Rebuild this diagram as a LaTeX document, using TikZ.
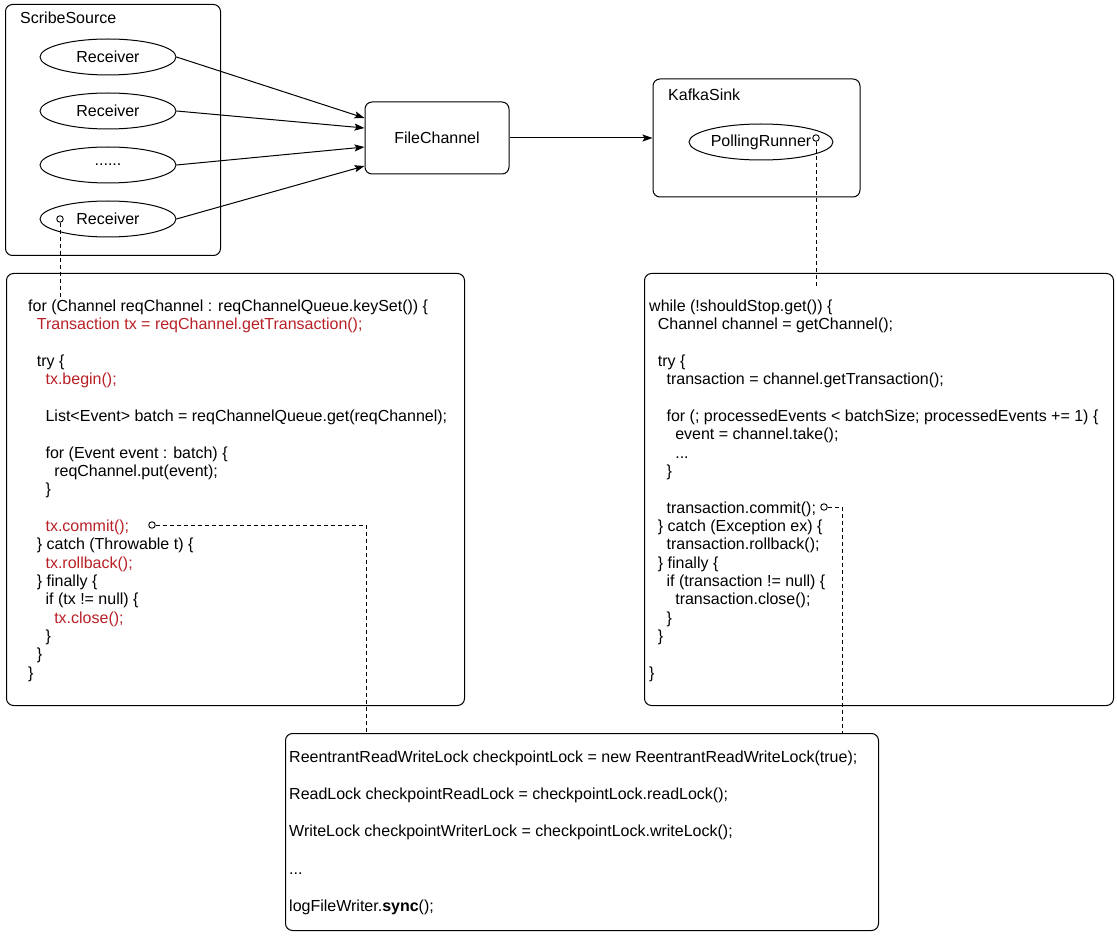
\documentclass[tikz,border=0pt]{standalone}
\usepackage{fontspec}
\setmainfont{Liberation Sans}
\usetikzlibrary{shapes.geometric,arrows.meta}
\definecolor{codered}{RGB}{184,32,38}
\newlength\indentstep
\setlength\indentstep{8.7pt}
\newcommand\codeind[1]{\hspace*{#1\indentstep}}
\newcommand\txred[1]{\textcolor{codered}{#1}}
\tikzset{
  frame/.style={draw, rounded corners=7pt, line width=1pt},
  recv/.style={draw, ellipse, line width=1pt, minimum width=136pt, minimum height=36pt, inner sep=0pt},
  code/.style={anchor=north west, align=left, inner sep=0pt},
  lbl/.style={anchor=base west, inner sep=0pt},
  hook/.style={draw, circle, fill=white, inner sep=0pt, minimum size=6.5pt, line width=0.9pt},
  link/.style={dash pattern=on 4pt off 3pt, line width=0.9pt},
  feed/.style={-{Stealth[length=10pt,width=7pt,inset=2pt]}, line width=1pt}
}

\begin{document}
\begin{tikzpicture}[x=1pt,y=-1pt,font=\fontsize{16}{18.35}\selectfont]
\useasboundingbox (0,0) rectangle (1117,936);

% source side
\node[frame, anchor=north west, minimum width=215pt, minimum height=251pt] (scribe) at (5,4) {};
\node[lbl] (scribelbl) at (20,23.5) {ScribeSource};
\node[recv] (r1) at (108,57) {Receiver};
\node[recv] (r2) at (108,111) {Receiver};
\node[recv] (r3) at (108,165) {......};
\node[recv] (r4) at (108,219) {Receiver};

% channel and sink
\node[frame, minimum width=144pt, minimum height=72pt] (filech) at (437,138) {FileChannel};
\node[frame, minimum width=207pt, minimum height=118pt] (kafka) at (756.5,138) {};
\node[lbl] (kafkalbl) at (668,101) {KafkaSink};
\node[recv, minimum width=144pt] (poller) at (761,142) {PollingRunner};

\draw[feed] (r1.east) -- ([yshift=20pt]filech.west);
\draw[feed] (r2.east) -- ([yshift=10pt]filech.west);
\draw[feed] (r3.east) -- ([yshift=-9pt]filech.west);
\draw[feed] (r4.east) -- ([yshift=-28pt]filech.west);
\draw[feed] (filech) -- (kafka);

% code boxes
\node[frame, anchor=north west, minimum width=458pt, minimum height=432pt] (srcbox) at (6,273) {};
\node[frame, anchor=north west, minimum width=469pt, minimum height=432pt] (sinkbox) at (644,273) {};
\node[frame, anchor=north west, minimum width=593pt, minimum height=197pt] (lockbox) at (285,733) {};

\node[code] (srccode) at (28,299.5) {%
for (Channel reqChannel : reqChannelQueue.keySet()) \{\\
\codeind{1}\txred{Transaction tx = reqChannel.getTransaction();}\\[18.35pt]
\codeind{1}try \{\\
\codeind{2}\txred{tx.begin();}\\[18.35pt]
\codeind{2}List<Event> batch = reqChannelQueue.get(reqChannel);\\[18.35pt]
\codeind{2}for (Event event : batch) \{\\
\codeind{3}reqChannel.put(event);\\
\codeind{2}\}\\[18.35pt]
\codeind{2}\txred{tx.commit();}\\
\codeind{1}\} catch (Throwable t) \{\\
\codeind{2}\txred{tx.rollback();}\\
\codeind{1}\} finally \{\\
\codeind{2}if (tx != null) \{\\
\codeind{3}\txred{tx.close();}\\
\codeind{2}\}\\
\codeind{1}\}\\
\}};

\node[code] (sinkcode) at (649,299.5) {%
while (!shouldStop.get()) \{\\
\codeind{1}Channel channel = getChannel();\\[18.35pt]
\codeind{1}try \{\\
\codeind{2}transaction = channel.getTransaction();\\[18.35pt]
\codeind{2}for (; processedEvents < batchSize; processedEvents += 1) \{\\
\codeind{3}event = channel.take();\\
\codeind{3}...\\
\codeind{2}\}\\[18.35pt]
\codeind{2}transaction.commit();\\
\codeind{1}\} catch (Exception ex) \{\\
\codeind{2}transaction.rollback();\\
\codeind{1}\} finally \{\\
\codeind{2}if (transaction != null) \{\\
\codeind{3}transaction.close();\\
\codeind{2}\}\\
\codeind{1}\}\\[18.35pt]
\}};

\node[code] (lockcode) at (289,750.5) {%
ReentrantReadWriteLock checkpointLock = new ReentrantReadWriteLock(true);\\[18.9pt]
ReadLock checkpointReadLock = checkpointLock.readLock();\\[18.9pt]
WriteLock checkpointWriterLock = checkpointLock.writeLock();\\[18.9pt]
...\\[18.9pt]
logFileWriter.\textbf{sync}();};

% dashed hooks
\node[hook] (r4hook) at (60,219) {};
\coordinate (r4end) at (60,297);
\draw[link] (r4hook) -- (r4end);

\node[hook] (pollhook) at (816,138) {};
\coordinate (pollend) at (816,288);
\draw[link] (pollhook) -- (pollend);

\node[hook] (srccommit) at (152,525) {};
\coordinate (srcdrop) at (366,733);
\draw[link] (srccommit) -| (srcdrop);

\node[hook] (sinkcommit) at (824,507) {};
\coordinate (sinkdrop) at (842,733);
\draw[link] (sinkcommit) -| (sinkdrop);

\end{tikzpicture}
\end{document}
